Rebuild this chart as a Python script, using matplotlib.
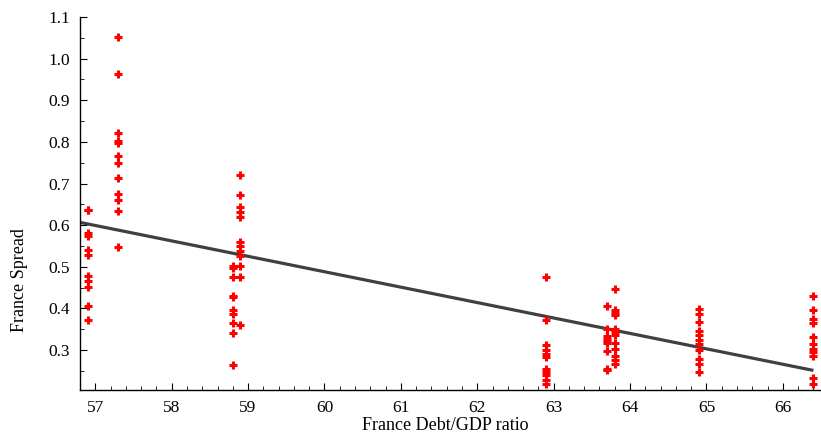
import numpy as np
import matplotlib.pyplot as plt
from matplotlib.ticker import MultipleLocator

# columnas de puntos: deuda/PIB y spread
x_5690 = [56.9] * 11
y_5690 = [0.637, 0.580, 0.575, 0.541, 0.529, 0.479, 0.467, 0.451, 0.405, 0.371, 0.637]
x_5730 = [57.3] * 12
y_5730 = [1.053, 0.962, 0.822, 0.802, 0.797, 0.765, 0.750, 0.714, 0.674, 0.661, 0.634, 0.547]
x_5880 = [58.8] * 10
y_5880 = [0.501, 0.497, 0.475, 0.431, 0.427, 0.397, 0.386, 0.365, 0.341, 0.263]
x_5890 = [58.9] * 12
y_5890 = [0.720, 0.673, 0.643, 0.631, 0.619, 0.559, 0.549, 0.538, 0.525, 0.501, 0.475, 0.359]
x_6290 = [62.9] * 11
y_6290 = [0.475, 0.371, 0.311, 0.299, 0.291, 0.283, 0.255, 0.247, 0.239, 0.229, 0.218]
x_6370 = [63.7] * 9
y_6370 = [0.405, 0.351, 0.333, 0.327, 0.322, 0.317, 0.298, 0.255, 0.251]
x_6380 = [63.8] * 12
y_6380 = [0.447, 0.397, 0.389, 0.383, 0.351, 0.343, 0.335, 0.317, 0.302, 0.285, 0.277, 0.267]
x_6490 = [64.9] * 11
y_6490 = [0.399, 0.386, 0.367, 0.346, 0.335, 0.325, 0.315, 0.301, 0.279, 0.266, 0.247]
x_6640 = [66.4] * 11
y_6640 = [0.429, 0.397, 0.375, 0.365, 0.331, 0.314, 0.303, 0.295, 0.285, 0.234, 0.218]

debt = np.array(x_5690 + x_5730 + x_5880 + x_5890 + x_6290 + x_6370 + x_6380 + x_6490 + x_6640)
spread = np.array(y_5690 + y_5730 + y_5880 + y_5890 + y_6290 + y_6370 + y_6380 + y_6490 + y_6640)

# recta de regresion
slope, intercept = np.polyfit(debt, spread, 1)
line_x = np.array([56.81, 66.38])

plt.rcParams['font.family'] = ['Liberation Serif', 'DejaVu Serif']

fig = plt.figure(figsize=(8.21, 4.43), dpi=100)
ax = fig.add_axes([80 / 821, 53 / 443, 741 / 821, 373 / 443])

ax.plot(line_x, intercept + slope * line_x, color='#404040', lw=2.3, zorder=2)
ax.plot(debt, spread, '+', color='red', ms=5.5, mew=2.2, zorder=3, clip_on=False)

ax.set_xlim(56.8, 66.5)
ax.set_ylim(0.204, 1.1)
ax.xaxis.set_major_locator(MultipleLocator(1))
ax.xaxis.set_minor_locator(MultipleLocator(0.2))
ax.yaxis.set_minor_locator(MultipleLocator(0.05))
ax.set_yticks(np.arange(0.3, 1.15, 0.1))
ax.set_yticklabels(['0.3', '0.4', '0.5', '0.6', '0.7', '0.8', '0.9', '1.0', '1.1'])

ax.tick_params(which='both', direction='in', colors='black', labelsize=12.5, pad=7)
ax.tick_params(which='major', length=5, width=0.8)
ax.tick_params(which='minor', length=3, width=0.6)
for s in ['top', 'right']:
    ax.spines[s].set_visible(False)
for s in ['left', 'bottom']:
    ax.spines[s].set_linewidth(1.0)

fig.text(445 / 821, 1 - 425 / 443, 'France Debt/GDP ratio', ha='center', va='center', fontsize=13)
fig.text(20 / 821, 1 - 280 / 443, 'France Spread', ha='center', va='center', rotation=90, fontsize=13)

fig.savefig('out.png', dpi=100)
